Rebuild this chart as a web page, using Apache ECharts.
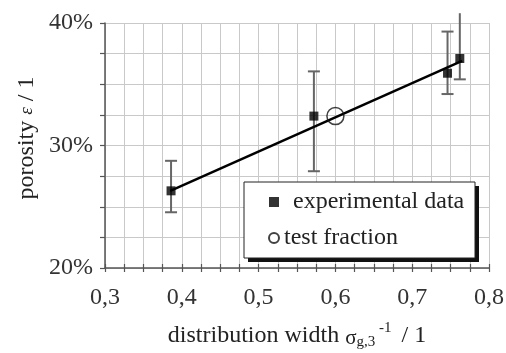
<!DOCTYPE html>
<html>
<head>
<meta charset="utf-8">
<script src="https://cdn.jsdelivr.net/npm/echarts@6/dist/echarts.min.js"></script>
<style>
  html, body { margin: 0; padding: 0; background: #fff; }
  #chart { width: 506px; height: 353px; }
</style>
</head>
<body>
<div id="chart"></div>
<script>
// Measured porosity versus inverse distribution width
var expX = [0.386, 0.572, 0.746, 0.762];
var expY = [26.3, 32.4, 35.9, 37.1];
var errLow = [24.55, 27.9, 34.2, 35.4];
var errHigh = [28.75, 36.05, 39.3, 40.8];

var testX = [0.600];
var testY = [32.4];

// Linear fit through the experimental data (end points)
var fitX = [0.385, 0.765];
var fitY = [26.3, 36.9];

var xMin = 0.3, xMax = 0.8, xStep = 0.1;
var yMin = 20, yMax = 40, yStep = 10;

var FONT = 'Liberation Serif';
var FS = 24;

function pairs(xs, ys) {
  return xs.map(function (x, i) { return [x, ys[i]]; });
}
var errData = expX.map(function (x, i) { return [x, errLow[i], errHigh[i]]; });

var chart = echarts.init(document.getElementById('chart'), null, { renderer: 'canvas' });

var axisColor = '#555';
var gridColor = '#c9c9c9';

// legend frame with a solid drop shadow
var box = { x: 244, y: 182, w: 231, h: 76, shadow: 4 };

chart.setOption({
  animation: false,
  backgroundColor: '#fff',
  grid: { left: 105, right: 17, top: 23, bottom: 85, containLabel: false, outerBoundsMode: 'none' },
  xAxis: [{
    type: 'value', min: xMin, max: xMax, interval: xStep,
    axisLine: { show: true, lineStyle: { color: axisColor, width: 1.5 } },
    axisTick: { show: true, length: 4, lineStyle: { color: axisColor, width: 1.2 } },
    minorTick: { show: true, splitNumber: 4, length: 4, lineStyle: { color: axisColor, width: 1.2 } },
    splitLine: { show: true, lineStyle: { color: gridColor, width: 1 } },
    minorSplitLine: { show: true, lineStyle: { color: gridColor, width: 1 } },
    axisLabel: {
      margin: 18, color: '#333', fontFamily: FONT, fontSize: FS,
      formatter: function (v) { return v.toFixed(1).replace('.', ','); }
    },
    name: 'distribution width {s|σ}{sub|g,3}{sup| -1}{n| / 1}',
    nameLocation: 'middle', nameGap: 53,
    nameTextStyle: {
      color: '#222', fontFamily: FONT, fontSize: FS,
      rich: {
        s: { fontFamily: FONT, fontSize: 21, color: '#222', padding: [5, 0, 0, 0] },
        sub: { fontFamily: FONT, fontSize: 15, color: '#222', padding: [14, 0, 0, 0] },
        sup: { fontFamily: FONT, fontSize: 15, color: '#222', padding: [0, 4, 14, 0] },
        n: { fontFamily: FONT, fontSize: FS, color: '#222' }
      }
    }
  }, {
    // inner half of the crossing ticks on the bottom axis
    type: 'value', min: xMin, max: xMax, interval: xStep, position: 'bottom',
    axisLine: { show: false },
    axisTick: { show: true, inside: true, length: 4, lineStyle: { color: axisColor, width: 1.2 } },
    minorTick: { show: true, splitNumber: 4, length: 4, lineStyle: { color: axisColor, width: 1.2 } },
    splitLine: { show: false },
    axisLabel: { show: false }
  }],
  yAxis: {
    type: 'value', min: yMin, max: yMax, interval: yStep,
    axisLine: { show: true, lineStyle: { color: axisColor, width: 1.5 } },
    axisTick: { show: true, length: 5, lineStyle: { color: axisColor, width: 1.2 } },
    minorTick: { show: true, splitNumber: 4, length: 5, lineStyle: { color: axisColor, width: 1.2 } },
    splitLine: { show: true, lineStyle: { color: gridColor, width: 1 } },
    minorSplitLine: { show: true, lineStyle: { color: gridColor, width: 1 } },
    axisLabel: {
      margin: 12, color: '#333', fontFamily: FONT, fontSize: FS,
      formatter: '{value}%'
    }
  },
  legend: {
    orient: 'vertical', left: box.x, top: box.y, z: 10,
    padding: [8, 10, 8, 24], itemGap: 12,
    itemWidth: 10, itemHeight: 10,
    textStyle: { color: '#222', fontFamily: FONT, fontSize: FS },
    data: [
      { name: 'experimental data', icon: 'rect', textStyle: { padding: [0, 0, 0, 9] } },
      { name: 'test fraction', icon: 'circle' }
    ]
  },
  graphic: [{
    type: 'rect', z: 1,
    shape: { x: box.x + box.shadow, y: box.y + box.shadow, width: box.w, height: box.h },
    style: { fill: '#111' }
  }, {
    type: 'rect', z: 1,
    shape: { x: box.x, y: box.y, width: box.w, height: box.h },
    style: { fill: '#fff', stroke: '#222', lineWidth: 1 }
  }, {
    type: 'text', x: 27, y: 138, rotation: Math.PI / 2,
    style: {
      text: 'porosity {e|ε} / 1',
      fill: '#222', font: FS + 'px "Liberation Serif"',
      align: 'center', verticalAlign: 'middle',
      rich: { e: { fontFamily: FONT, fontSize: 19, fontStyle: 'italic', fill: '#222' } }
    }
  }],
  series: [{
    type: 'custom', name: 'error', z: 2,
    data: errData,
    renderItem: function (params, api) {
      var x = api.value(0), lo = api.value(1), hi = api.value(2);
      var pLo = api.coord([x, lo]);
      var pHi = api.coord([x, hi]);
      var hw = 6;
      var st = { stroke: '#666', lineWidth: 2 };
      var children = [
        { type: 'line', shape: { x1: pLo[0], y1: pLo[1], x2: pHi[0], y2: pHi[1] }, style: st },
        { type: 'line', shape: { x1: pLo[0] - hw, y1: pLo[1], x2: pLo[0] + hw, y2: pLo[1] }, style: st }
      ];
      if (hi <= yMax) {
        children.push({ type: 'line', shape: { x1: pHi[0] - hw, y1: pHi[1], x2: pHi[0] + hw, y2: pHi[1] }, style: st });
      }
      return { type: 'group', children: children };
    }
  }, {
    type: 'line', name: 'fit', z: 3,
    data: pairs(fitX, fitY),
    symbol: 'none',
    lineStyle: { color: '#000', width: 2.5 }
  }, {
    type: 'scatter', name: 'experimental data', z: 4,
    data: pairs(expX, expY),
    symbol: 'rect', symbolSize: 9,
    itemStyle: { color: '#000' }
  }, {
    type: 'scatter', name: 'test fraction', z: 4,
    data: pairs(testX, testY),
    symbol: 'circle', symbolSize: 17,
    itemStyle: { color: 'rgba(255,255,255,0)', borderColor: '#111', borderWidth: 1.5 }
  }]
});
</script>
</body>
</html>
